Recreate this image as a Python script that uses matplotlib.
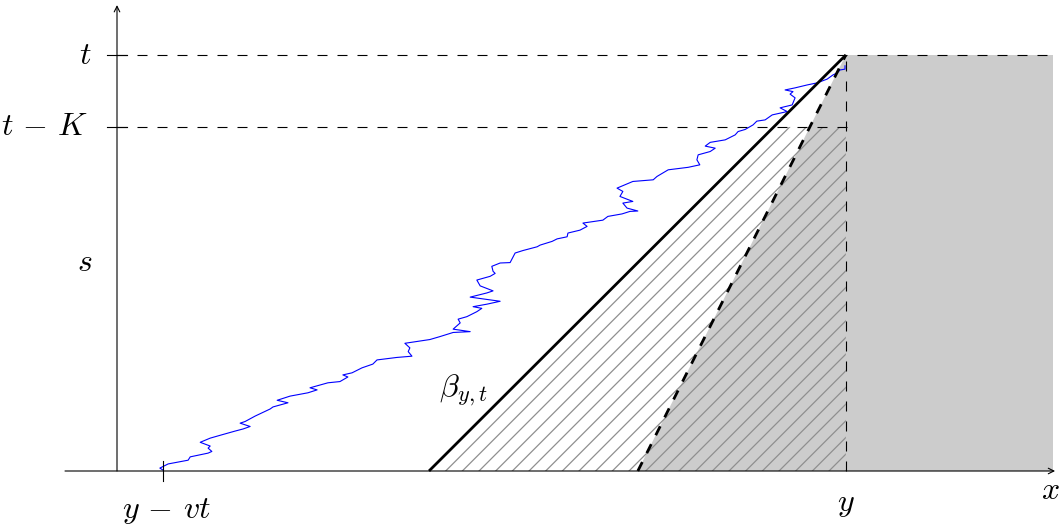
import matplotlib
matplotlib.use("Agg")
import matplotlib.pyplot as plt
from matplotlib.patches import Polygon

plt.rcParams['mathtext.fontset'] = 'cm'
plt.rcParams['lines.scale_dashes'] = False
plt.rcParams['hatch.linewidth'] = 0.9

# ---- data (diagram units) ----
t = 10.0
K = 1.73
y = 17.52
y_minus_vt = 1.11
beta_start = 7.50      # x-intercept of beta_{y,t} (solid)
dashed_start = 12.52   # x-intercept of dashed line
x_axis_min, x_axis_max = -1.25, 22.55
y_axis_max = 11.2
right_edge = 22.5
tK_line_end = 17.68

path_x = [1.11, 1.03, 1.23, 1.71, 1.76, 2.19, 2.28, 2.19, 2.24, 2.00, 2.24, 2.52, 2.84, 3.03, 3.20,
          2.96, 3.08, 3.32, 3.68, 3.75, 4.11, 3.85, 4.16, 4.59, 4.81, 4.64, 5.07, 5.36, 5.55, 5.43,
          5.65, 5.89, 6.15, 6.25, 6.73, 7.09, 7.00, 7.04, 6.92, 7.52, 7.76, 8.08, 8.49, 8.08, 8.25,
          8.20, 8.41, 8.65, 8.77, 8.56, 8.89, 9.21, 8.49, 8.89, 9.04, 8.73, 8.65, 8.97, 9.09, 9.04,
          9.01, 9.21, 9.45, 9.57, 9.76, 10.10, 10.17, 10.46, 10.58, 10.82, 10.84, 11.13, 11.30, 11.20,
          11.68, 11.80, 12.14, 12.33, 12.52, 12.26, 12.16, 12.40, 12.09, 12.16, 12.02, 12.40, 12.89,
          12.98, 13.25, 13.73, 14.01, 13.94, 13.97, 14.26, 14.38, 14.14, 14.26, 14.62, 14.86, 14.93,
          15.10, 15.29, 15.38, 15.58, 15.75, 16.11, 15.94, 16.23, 16.30, 16.18, 16.25, 16.06, 16.30,
          16.59, 16.83, 17.07, 17.21, 17.31, 17.38, 17.50, 17.50]
path_s = [0.02, 0.07, 0.17, 0.26, 0.34, 0.43, 0.47, 0.55, 0.60, 0.69, 0.79, 0.87, 0.96, 1.01, 1.07,
          1.15, 1.19, 1.32, 1.49, 1.54, 1.64, 1.70, 1.80, 1.88, 1.95, 2.00, 2.12, 2.15, 2.26, 2.31,
          2.36, 2.48, 2.57, 2.67, 2.73, 2.76, 2.87, 2.96, 3.07, 3.16, 3.23, 3.33, 3.35, 3.41, 3.56,
          3.65, 3.71, 3.83, 3.91, 3.95, 4.01, 4.08, 4.18, 4.28, 4.33, 4.45, 4.59, 4.68, 4.75, 4.80,
          4.92, 5.00, 5.01, 5.24, 5.30, 5.39, 5.43, 5.52, 5.58, 5.63, 5.72, 5.79, 5.88, 5.96,
          6.03, 6.12, 6.18, 6.24, 6.25, 6.32, 6.44, 6.48, 6.60, 6.72, 6.80, 6.96, 7.00,
          7.08, 7.24, 7.30, 7.36, 7.48, 7.60, 7.68, 7.76, 7.81, 7.90, 7.96, 8.08, 8.16,
          8.21, 8.32, 8.41, 8.44, 8.56, 8.64, 8.73, 8.80, 8.97, 9.06, 9.12, 9.16, 9.21,
          9.28, 9.33, 9.42, 9.52, 9.57, 9.64, 9.66, 9.74]

fig = plt.figure(figsize=(10.63, 5.27), dpi=100)
ax = fig.add_axes([0, 0, 1, 1])
ax.set_xlim(-117 / 41.6, (1063 - 117) / 41.6)
ax.set_ylim(-56 / 41.6, 471 / 41.6)
ax.axis('off')

grey = '#cccccc'
# grey region
ax.add_patch(Polygon([(dashed_start, 0), (y, t), (right_edge, t), (right_edge, 0)],
                     closed=True, facecolor=grey, edgecolor='none', zorder=1))
# hatched region
tK = t - K
beta_at_tK = beta_start + (y - beta_start) * tK / t
ax.add_patch(Polygon([(beta_start, 0), (beta_at_tK, tK), (y, tK), (y, 0)],
                     closed=True, facecolor='none', edgecolor='#8f8f8f', lw=0,
                     hatch='//', zorder=2))

dash = (0, (7.2, 7.2))
# dashed guides
ax.plot([0, right_edge], [t, t], color='black', lw=0.8, linestyle=dash, zorder=3)
ax.plot([0, tK_line_end], [tK, tK], color='black', lw=0.8, linestyle=dash, zorder=3)
ax.plot([y, y], [0, t], color='black', lw=0.8, linestyle=dash, zorder=3)

# blue path
ax.plot(path_x, path_s, color='#0000ff', lw=0.8, zorder=4)

# beta line and dashed line
ax.plot([beta_start, y], [0, t], color='black', lw=2.0, solid_capstyle='butt', zorder=5)
ax.plot([dashed_start, y], [0, t], color='black', lw=2.0, linestyle=dash, zorder=5)

# axes
arrow = dict(arrowstyle='->', lw=0.8, color='black', shrinkA=0, shrinkB=0)
ax.annotate('', xy=(x_axis_max, 0), xytext=(x_axis_min, 0), arrowprops=arrow, zorder=6)
ax.annotate('', xy=(0, y_axis_max), xytext=(0, 0), arrowprops=arrow, zorder=6)

# ticks
tick = 0.25
for v in [t, tK]:
    ax.plot([-tick, tick], [v, v], color='black', lw=0.8, zorder=6)
ax.plot([y_minus_vt, y_minus_vt], [-tick, tick], color='black', lw=0.8, zorder=6)

fs = 23
ax.text(-0.6, t, r'$t$', ha='right', va='center', fontsize=fs)
ax.text(-0.68, tK, r'$t\,-\,K$', ha='right', va='center', fontsize=fs)
ax.text(-0.77, 5.02, r'$s$', ha='center', va='center', fontsize=fs)
ax.text(y_minus_vt + 0.07, -0.94, r'$y\,-\,vt$', ha='center', va='center', fontsize=fs)
ax.text(y, -0.77, r'$y$', ha='center', va='center', fontsize=fs)
ax.text(22.43, -0.46, r'$x$', ha='center', va='center', fontsize=fs)
ax.text(8.32, 1.95, r'$\beta_{y,t}$', ha='center', va='center', fontsize=fs)

fig.savefig('out.png', dpi=100)
